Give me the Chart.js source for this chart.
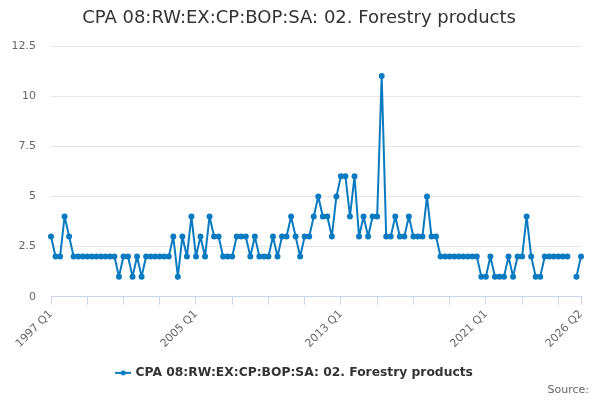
<!DOCTYPE html>
<html>
<head>
<meta charset="utf-8">
<script src="https://cdn.jsdelivr.net/npm/chart.js@4/dist/chart.umd.min.js"></script>
<style>
  html, body { margin: 0; padding: 0; background: #fff; }
  #wrap { width: 600px; height: 400px; }
</style>
</head>
<body>
<div id="wrap"><canvas id="plots"></canvas></div>
<script>
const seriesName = 'CPA 08:RW:EX:CP:BOP:SA: 02. Forestry products'
const startYear = 1997
const quarterCount = 118

// values per quarter, 1997 Q1 .. 2026 Q2 (null = no data)
const forestry = [
  3, 2, 2, 4, 3, 2, 2, 2, 2, 2, 2, 2, 2, 2, 2, 1, 2, 2, 1, 2,
  1, 2, 2, 2, 2, 2, 2, 3, 1, 3, 2, 4, 2, 3, 2, 4, 3, 3, 2, 2,
  2, 3, 3, 3, 2, 3, 2, 2, 2, 3, 2, 3, 3, 4, 3, 2, 3, 3, 4, 5,
  4, 4, 3, 5, 6, 6, 4, 6, 3, 4, 3, 4, 4, 11, 3, 3, 4, 3, 3, 4,
  3, 3, 3, 5, 3, 3, 2, 2, 2, 2, 2, 2, 2, 2, 2, 1, 1, 2, 1, 1,
  1, 2, 1, 2, 2, 4, 2, 1, 1, 2, 2, 2, 2, 2, 2, null, 1, 2
]
const yTicks = [0, 2.5, 5, 7.5, 10, 12.5]

const quarters = []
for (let i = 0; i < quarterCount; i++) {
  quarters.push((startYear + Math.floor(i / 4)) + ' Q' + (i % 4 + 1))
}

const lineColor = '#0b7bc1'
const fontFamily = '"DejaVu Sans", sans-serif'

// legend symbol: short line with a dot
const symbol = document.createElement('canvas')
symbol.width = 16
symbol.height = 8
const sctx = symbol.getContext('2d')
sctx.strokeStyle = lineColor
sctx.lineWidth = 2
sctx.beginPath()
sctx.moveTo(0, 4)
sctx.lineTo(16, 4)
sctx.stroke()
sctx.fillStyle = lineColor
sctx.beginPath()
sctx.arc(8, 4, 2.5, 0, Math.PI * 2)
sctx.fill()

// title centred on the whole canvas, plus the source note bottom right
const headerFooter = {
  id: 'headerFooter',
  afterDraw(chart) {
    const c = chart.ctx
    c.save()
    c.font = '18px ' + fontFamily
    c.fillStyle = '#333'
    c.textAlign = 'center'
    c.textBaseline = 'middle'
    c.fillText(seriesName, 299, 18)
    c.font = '11px ' + fontFamily
    c.fillStyle = '#666'
    c.textAlign = 'right'
    c.fillText('Source:', 589, 390)
    c.restore()
  }
}

new Chart(document.getElementById('plots'), {
  type: 'line',
  data: {
    labels: quarters,
    datasets: [{
      label: seriesName,
      data: forestry,
      borderColor: lineColor,
      backgroundColor: lineColor,
      borderWidth: 2,
      borderJoinStyle: 'round',
      pointRadius: 2,
      pointHoverRadius: 3,
      pointStyle: 'circle',
      fill: false,
      tension: 0,
      spanGaps: false
    }]
  },
  options: {
    responsive: true,
    maintainAspectRatio: false,
    animation: false,
    layout: { padding: { top: 46, right: 19, bottom: 11, left: 9 } },
    plugins: {
      title: { display: false },
      legend: {
        position: 'bottom',
        labels: {
          usePointStyle: true,
          pointStyle: symbol,
          color: '#333',
          font: { family: fontFamily, size: 12.3, weight: 'bold' },
          padding: 10
        }
      },
      tooltip: { enabled: false }
    },
    scales: {
      x: {
        type: 'category',
        offset: false,
        border: { color: '#ccd6eb' },
        grid: {
          drawOnChartArea: false,
          drawTicks: true,
          tickLength: 8,
          color: '#ccd6eb'
        },
        ticks: {
          autoSkip: false,
          maxRotation: 45,
          minRotation: 45,
          color: '#666',
          font: { family: fontFamily, size: 11 },
          callback: function (value, index) {
            if (index % 32 === 0 || index === quarterCount - 1) return quarters[index]
            if (index % 8 === 0) return ''
            return null
          }
        },
        afterFit: function (scale) { scale.height = 60 }
      },
      y: {
        min: 0,
        max: 12.5,
        border: { display: false },
        grid: { color: '#e6e6e6', drawTicks: false },
        ticks: {
          stepSize: 2.5,
          padding: 15,
          color: '#666',
          font: { family: fontFamily, size: 11 },
          callback: function (v) { return yTicks.includes(v) ? String(v) : null }
        },
        afterFit: function (scale) { scale.width = 42 }
      }
    }
  },
  plugins: [headerFooter]
})
</script>
</body>
</html>
